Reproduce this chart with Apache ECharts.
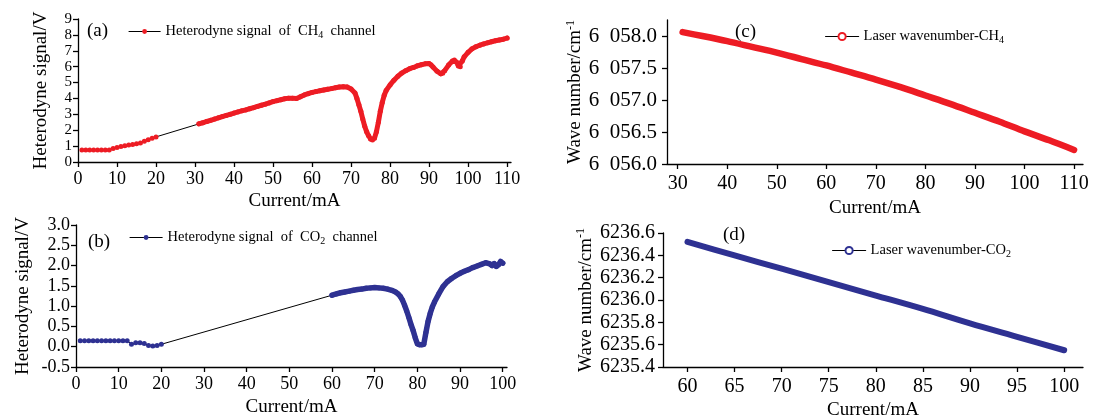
<!DOCTYPE html>
<html>
<head>
<meta charset="utf-8">
<script src="https://cdn.jsdelivr.net/npm/echarts@6/dist/echarts.min.js"></script>
<style>
  html, body { margin: 0; padding: 0; background: #fff; }
  #chart { width: 1096px; height: 419px; }
</style>
</head>
<body>
<div id="chart"></div>
<script>
// (a) heterodyne signal, CH4 channel: [current mA, signal V]
var ch4Low = [[1,0.75],[2,0.75],[3,0.75],[4,0.75],[5,0.75],[6,0.75],[7,0.75],[8,0.76],[9,0.85],[10,0.92],
  [11,0.97],[12,1.02],[13,1.07],[14,1.1],[15,1.15],[16,1.2],[17,1.3],[18,1.4],[19,1.5],[20,1.58]];
var ch4Scan = [[31,2.4],[32,2.47],[33,2.55],[34,2.62],[35,2.7],[36,2.78],[37,2.86],[38,2.93],[39,3.0],[40,3.08],
  [41,3.15],[42,3.22],[43,3.28],[44,3.35],[45,3.42],[46,3.5],[47,3.57],[48,3.64],[49,3.72],[50,3.8],
  [51,3.86],[52,3.92],[53,3.98],[54,4.02],[55,4.02],[56,4.0],[57,4.1],[58,4.22],[59,4.3],[60,4.38],
  [61,4.43],[62,4.48],[63,4.53],[64,4.58],[65,4.62],[66,4.67],[67,4.72],[68,4.74],[69,4.72],[70,4.6],
  [71,4.35],[71.5,4.0],[72,3.6],[72.5,3.2],[73,2.7],[73.5,2.25],[74,1.9],[74.5,1.65],[75,1.45],[75.5,1.38],
  [76,1.5],[76.5,1.9],[77,2.5],[77.5,3.2],[78,3.75],[78.5,4.2],[79,4.5],[80,4.85],[81,5.15],[82,5.4],
  [83,5.6],[84,5.75],[85,5.87],[86,5.95],[87,6.05],[88,6.12],[89,6.18],[90,6.2],[90.5,6.12],[91,5.98],
  [92,5.72],[93,5.55],[93.5,5.58],[94,5.75],[95,6.1],[96,6.35],[96.5,6.42],[97,6.3],[97.5,6.05],[98,6.0],
  [98.5,6.35],[99,6.62],[100,6.9],[101,7.12],[102,7.25],[103,7.35],[104,7.43],[105,7.5],[106,7.57],
  [107,7.63],[108,7.68],[109,7.73],[110,7.8]];

// (b) heterodyne signal, CO2 channel
var co2Low = [[1,0.15],[2,0.15],[3,0.15],[4,0.15],[5,0.15],[6,0.15],[7,0.15],[8,0.15],[9,0.15],[10,0.15],
  [11,0.15],[12,0.15],[13,0.06],[14,0.1],[15,0.1],[16,0.08],[17,0.03],[18,0.02],[19,0.03],[20,0.06]];
var co2Scan = [[60,1.27],[61,1.3],[62,1.33],[63,1.35],[64,1.37],[65,1.39],[66,1.41],[67,1.42],[68,1.44],[69,1.45],
  [70,1.46],[71,1.45],[72,1.44],[73,1.42],[74,1.39],[75,1.34],[75.5,1.3],[76,1.24],[76.5,1.15],[77,1.02],
  [77.5,0.88],[78,0.72],[78.5,0.55],[79,0.4],[79.5,0.22],[80,0.07],[80.5,0.05],[81,0.05],[81.5,0.06],[82,0.35],
  [82.5,0.62],[83,0.82],[83.5,0.98],[84,1.1],[85,1.3],[86,1.48],[87,1.6],[88,1.68],[89,1.75],[90,1.81],
  [91,1.86],[92,1.9],[93,1.95],[94,1.99],[95,2.03],[96,2.07],[97,2.04],[97.5,2.0],[98,2.05],[98.5,1.98],
  [99,2.02],[99.5,2.1],[100,2.06]];

// (c), (d) laser wavenumber: [current mA, cm-1]
var ch4Wave = [[31,6058.06],[35,6058.00],[40,6057.92],[45,6057.83],[50,6057.74],[55,6057.64],[60,6057.54],
  [65,6057.43],[70,6057.32],[75,6057.20],[80,6057.07],[85,6056.94],[90,6056.80],[95,6056.66],[100,6056.51],
  [105,6056.37],[110,6056.22]];
var co2Wave = [[60,6236.52],[65,6236.40],[70,6236.28],[75,6236.16],[80,6236.04],[85,6235.92],[90,6235.79],
  [95,6235.67],[100,6235.55]];

var xTicksA = [0,10,20,30,40,50,60,70,80,90,100,110];
var yTicksA = [0,1,2,3,4,5,6,7,8,9];
var xTicksB = [0,10,20,30,40,50,60,70,80,90,100];
var yTicksB = [-0.5,0,0.5,1,1.5,2,2.5,3];
var xTicksC = [30,40,50,60,70,80,90,100,110];
var yTicksC = [6056,6056.5,6057,6057.5,6058];
var xTicksD = [60,65,70,75,80,85,90,95,100];
var yTicksD = [6235.4,6235.6,6235.8,6236,6236.2,6236.4,6236.6];

var RED = '#ed1c24';
var BLUE = '#2e3192';
var FONT = 'Liberation Serif';

var chart = echarts.init(document.getElementById('chart'));

function axis(grid, min, max, ticks, opts) {
  return {
    type: 'value', gridIndex: grid, min: min, max: max,
    name: opts.name, nameLocation: 'middle', nameGap: opts.nameGap,
    nameTextStyle: { fontFamily: FONT, fontSize: opts.nameSize || 19, color: '#000', rich: opts.rich },
    axisLine: { show: true, onZero: false, lineStyle: { color: '#000', width: 1.3 } },
    axisTick: { show: true, customValues: ticks, length: 5, lineStyle: { color: '#000', width: 1.3 } },
    axisLabel: {
      customValues: ticks, margin: opts.margin, color: '#000', fontFamily: FONT,
      fontSize: opts.fontSize, formatter: opts.formatter || String,
      showMinLabel: true, showMaxLabel: true, hideOverlap: false
    },
    splitLine: { show: false }
  };
}

function fixed1(v) { return v.toFixed(1); }
function spaced(v) { var s = v.toFixed(1); return s.slice(0, 1) + '  ' + s.slice(1); }

var supRich = {
  b: { fontFamily: FONT, fontSize: 19, color: '#000', lineHeight: 22 },
  sup: { fontFamily: FONT, fontSize: 12, color: '#000', verticalAlign: 'top', lineHeight: 12 }
};
var legendRich = {
  t: { fontFamily: FONT, fontSize: 14.5, color: '#000', lineHeight: 18 },
  s: { fontFamily: FONT, fontSize: 10, color: '#000', verticalAlign: 'bottom', lineHeight: 10 }
};

var legendText = {
  ch4: '{t|Heterodyne signal  of  CH}{s|4}{t|  channel}',
  co2: '{t|Heterodyne signal  of  CO}{s|2}{t|  channel}',
  ch4w: '{t|Laser wavenumber-CH}{s|4}',
  co2w: '{t|Laser wavenumber-CO}{s|2}'
};

function legend(name, left, top, w, h) {
  return {
    data: [name], left: left, top: top, padding: 0,
    itemWidth: w, itemHeight: h,
    textStyle: { rich: legendRich },
    formatter: function (n) { return legendText[n]; },
    lineStyle: { color: '#000', width: 1.2 }
  };
}

function panelTag(text, left, top) {
  return {
    text: text, left: left, top: top, padding: 0,
    textStyle: { fontFamily: FONT, fontSize: 19, fontWeight: 'normal', color: '#000' }
  };
}

var option = {
  backgroundColor: '#fff',
  animation: false,
  title: [
    panelTag('(a)', 87, 22),
    panelTag('(b)', 88, 233),
    panelTag('(c)', 735, 23),
    panelTag('(d)', 723, 226)
  ],
  legend: [
    legend('ch4', 128, 24, 32, 6),
    legend('co2', 129, 230, 33, 6),
    legend('ch4w', 825, 29, 33, 9),
    legend('co2w', 832, 243, 33, 9)
  ],
  grid: [
    { left: 78, top: 19, width: 433, height: 143, outerBoundsMode: 'none' },
    { left: 76, top: 225, width: 431, height: 142, outerBoundsMode: 'none' },
    { left: 667, top: 20, width: 416, height: 144, outerBoundsMode: 'none' },
    { left: 663, top: 233, width: 420, height: 134, outerBoundsMode: 'none' }
  ],
  xAxis: [
    axis(0, 0, 111, xTicksA, { name: 'Current/mA', nameGap: 30, margin: 8, fontSize: 18 }),
    axis(1, 0, 101, xTicksB, { name: 'Current/mA', nameGap: 31, margin: 8, fontSize: 18 }),
    axis(2, 27.85, 111.8, xTicksC, { name: 'Current/mA', nameGap: 35, margin: 10, fontSize: 20 }),
    axis(3, 57.4, 102, xTicksD, { name: 'Current/mA', nameGap: 34, margin: 10, fontSize: 20 })
  ],
  yAxis: [
    axis(0, 0, 9, yTicksA, { name: 'Heterodyne signal/V', nameGap: 27, margin: 6, fontSize: 15 }),
    axis(1, -0.5, 3, yTicksB, { name: 'Heterodyne signal/V', nameGap: 43, margin: 6, fontSize: 18, formatter: fixed1 }),
    axis(2, 6056, 6058.25, yTicksC, { name: '{b|Wave number/cm}{sup|-1}', rich: supRich, nameGap: 76, margin: 10, fontSize: 21, formatter: spaced }),
    axis(3, 6235.4, 6236.6, yTicksD, { name: '{b|Wave number/cm}{sup|-1}', rich: supRich, nameGap: 66, margin: 8, fontSize: 20, formatter: fixed1 })
  ],
  series: [
    {
      name: 'ch4', type: 'line', xAxisIndex: 0, yAxisIndex: 0,
      data: ch4Low.concat(ch4Scan), symbol: 'circle', symbolSize: 5,
      itemStyle: { color: RED }, lineStyle: { color: '#000', width: 1 }, z: 2
    },
    {
      name: 'ch4 scan', type: 'line', xAxisIndex: 0, yAxisIndex: 0,
      data: ch4Scan, symbol: 'none', lineStyle: { color: RED, width: 5, cap: 'round', join: 'round' }, z: 3
    },
    {
      name: 'co2', type: 'line', xAxisIndex: 1, yAxisIndex: 1,
      data: co2Low.concat(co2Scan), symbol: 'circle', symbolSize: 5,
      itemStyle: { color: BLUE }, lineStyle: { color: '#000', width: 1 }, z: 2
    },
    {
      name: 'co2 scan', type: 'line', xAxisIndex: 1, yAxisIndex: 1,
      data: co2Scan, symbol: 'none', lineStyle: { color: BLUE, width: 5.5, cap: 'round', join: 'round' }, z: 3
    },
    {
      name: 'ch4w', type: 'line', xAxisIndex: 2, yAxisIndex: 2,
      data: ch4Wave, symbol: 'emptyCircle', showSymbol: false, smooth: 0.3, itemStyle: { color: RED },
      lineStyle: { color: RED, width: 6.5, cap: 'round' }
    },
    {
      name: 'co2w', type: 'line', xAxisIndex: 3, yAxisIndex: 3,
      data: co2Wave, symbol: 'emptyCircle', showSymbol: false, smooth: 0.3, itemStyle: { color: BLUE },
      lineStyle: { color: BLUE, width: 6, cap: 'round' }
    }
  ]
};

chart.setOption(option);
</script>
</body>
</html>
